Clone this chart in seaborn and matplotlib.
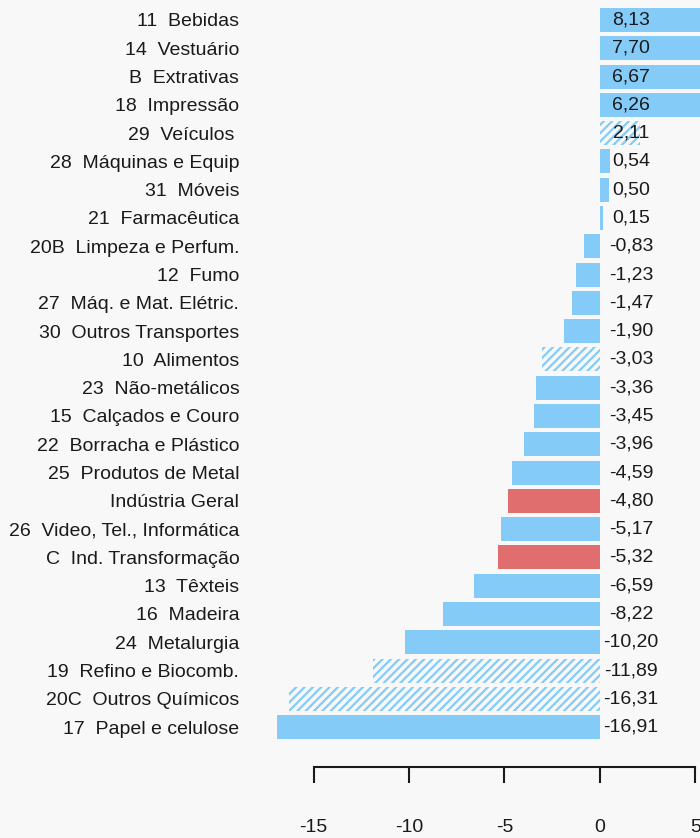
import matplotlib
matplotlib.use("Agg")
import matplotlib.pyplot as plt
import seaborn as sns
import pandas as pd

categorias = [
    "11  Bebidas", "14  Vestuário", "B  Extrativas", "18  Impressão",
    "29  Veículos ", "28  Máquinas e Equip", "31  Móveis", "21  Farmacêutica",
    "20B  Limpeza e Perfum.", "12  Fumo", "27  Máq. e Mat. Elétric.",
    "30  Outros Transportes", "10  Alimentos", "23  Não-metálicos",
    "15  Calçados e Couro", "22  Borracha e Plástico", "25  Produtos de Metal",
    "Indústria Geral", "26  Video, Tel., Informática", "C  Ind. Transformação",
    "13  Têxteis", "16  Madeira", "24  Metalurgia", "19  Refino e Biocomb.",
    "20C  Outros Químicos", "17  Papel e celulose",
]
valores = [
    8.13, 7.70, 6.67, 6.26, 2.11, 0.54, 0.50, 0.15, -0.83, -1.23, -1.47,
    -1.90, -3.03, -3.36, -3.45, -3.96, -4.59, -4.80, -5.17, -5.32, -6.59,
    -8.22, -10.20, -11.89, -16.31, -16.91,
]
# agregados (vermelho) e setores hachurados
agregados = ["Indústria Geral", "C  Ind. Transformação"]
hachurados = ["29  Veículos ", "10  Alimentos", "19  Refino e Biocomb.",
              "20C  Outros Químicos"]

azul = "#84CBF7"
vermelho = "#E06E6E"
fundo = "#F8F8F8"
texto = "#1A1A1A"

sns.set_style("white")
plt.rcParams["font.family"] = ["Liberation Sans", "DejaVu Sans"]
plt.rcParams["hatch.linewidth"] = 1.6
plt.rcParams["axes.unicode_minus"] = False

df = pd.DataFrame({"setor": categorias, "valor": valores})
cores = {c: (vermelho if c in agregados else azul) for c in categorias}

fig = plt.figure(figsize=(7, 8.38), dpi=100, facecolor=fundo)
ax = fig.add_axes([258 / 700, 1 - 767 / 838, 516 / 700, 767 / 838])
ax.set_facecolor(fundo)

sns.barplot(data=df, y="setor", x="valor", hue="setor", palette=cores,
            legend=False, orient="h", width=0.85, linewidth=0, saturation=1,
            ax=ax)

for patch, setor in zip(ax.patches, categorias):
    if setor in hachurados:
        patch.set_facecolor("none")
        patch.set_edgecolor(azul)
        patch.set_linewidth(0)
        patch.set_hatch("////")

for i, v in enumerate(valores):
    ax.annotate(f"{v:.2f}".replace(".", ","), xy=(0, i), xytext=(22.5, 0),
                textcoords="offset points", ha="center", va="center",
                fontsize=14, color=texto)

ax.set_xlim(-17.91, 9.13)
ax.set_ylim(26.41, -0.707)
ax.set_xlabel("")
ax.set_ylabel("")
ax.set_xticks([-15, -10, -5, 0, 5])
ax.tick_params(axis="x", length=11.5, width=1.5, pad=26, labelsize=14,
               colors=texto, bottom=True)
ax.tick_params(axis="y", length=0, pad=13.5, labelsize=14, labelcolor=texto)

for lado in ["top", "right", "left"]:
    ax.spines[lado].set_visible(False)
ax.spines["bottom"].set_bounds(-15, 5)
ax.spines["bottom"].set_linewidth(1.5)
ax.spines["bottom"].set_color(texto)

fig.savefig("out.png", dpi=100, facecolor=fundo)
